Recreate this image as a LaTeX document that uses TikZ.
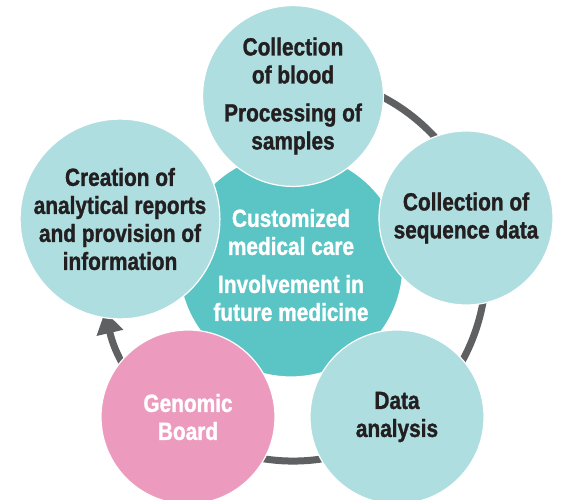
\documentclass[tikz,border=0pt]{standalone}
\usepackage{fontspec}
\setmainfont{Liberation Sans}[FakeStretch=0.84,BoldFeatures={FakeBold=1.2}]
\usepackage{tikz}
\usetikzlibrary{positioning}
\usetikzlibrary{arrows.meta}
\definecolor{paleteal}{HTML}{AEDEDF}
\definecolor{hubteal}{HTML}{5BC4C4}
\definecolor{boardpink}{HTML}{EC9BBF}
\definecolor{ringgrey}{HTML}{5F6062}
\definecolor{inkdark}{HTML}{231F20}
\tikzset{stage node/.style={circle,fill=paleteal,draw=white,line width=0.6pt,minimum size=87pt,inner sep=0pt,align=center,text=inkdark,font=\bfseries\fontsize{12.4}{14}\selectfont},}
\tikzset{hub node/.style={stage node,fill=hubteal,minimum size=112pt,text=white},}
\tikzset{board node/.style={stage node,fill=boardpink,text=white},}

\begin{document}
\begin{tikzpicture}[x=0.5pt,y=0.5pt,>={Triangle[width=13pt,length=11pt]}]
    \useasboundingbox (0,0) rectangle (562,499);

    % ring behind the circles
    \coordinate (r0) at (343,417.4);
    \draw[ringgrey,line width=3.5pt,->] (r0) arc[start angle=75,end angle=-167,radius=96.5pt];

    \node[hub node] (0) at (291,234) {Customized\\medical care\\[5pt]Involvement in\\future medicine};

    \node[stage node] (1) at (293,403) {Collection\\of blood\\[5pt]Processing of\\samples};
    \node[stage node] (2) at (466,281) {Collection of\\sequence data};
    \node[stage node] (3) at (397,82) {Data\\analysis};
    \node[board node] (4) at (188,82) {Genomic\\Board};
    \node[stage node] (5) at (120,280) {Creation of\\analytical reports\\and provision of\\information};
\end{tikzpicture}
\end{document}
